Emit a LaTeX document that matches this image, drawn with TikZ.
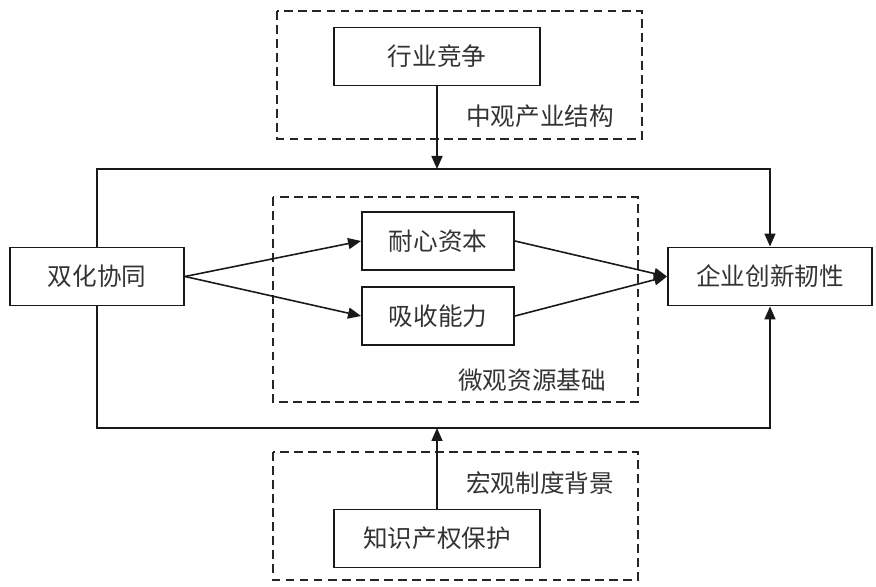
\documentclass[tikz,border=0pt]{standalone}
\usepackage{fontspec}
\setmainfont{Noto Sans CJK SC}
\usetikzlibrary{arrows.meta}

\begin{document}
\begin{tikzpicture}[x=0.02cm,y=-0.02cm,>={Triangle[length=2.6mm,width=2.2mm]},
    font=\fontsize{14}{16}\selectfont, text=black!80]
    \tikzset{box/.style={draw=black!90, line width=1.1pt, minimum height=1.16cm, inner sep=0pt},
        frame/.style={draw=black!85, dashed, dash pattern=on 5pt off 3pt, line width=0.9pt},
        conn/.style={->, draw=black!90, line width=0.9pt}}
    \useasboundingbox (0,0) rectangle (876,587);
    % three dashed frames
    \draw[frame] (277,11) rectangle (642,139);
    \draw[frame] (273,197) rectangle (638,402);
    \draw[frame] (273,452) rectangle (638,580);
    \node (zgcy) at (540,116) {中观产业结构};
    \node (wgzy) at (532,380) {微观资源基础};
    \node (hgzd) at (540,483) {宏观制度背景};
    % boxes
    \node[box, minimum width=4.12cm] (hyjz) at (437,56.5) {行业竞争};
    \node[box, minimum width=3.48cm] (shxt) at (97,276.5) {双化协同};
    \node[box, minimum width=3.04cm] (nxzb) at (438,241) {耐心资本};
    \node[box, minimum width=3.04cm] (xsnl) at (438,316) {吸收能力};
    \node[box, minimum width=4.08cm] (qycx) at (770,276.5) {企业创新韧性};
    \node[box, minimum width=4.12cm] (zscq) at (437,538.5) {知识产权保护};
    \coordinate (topy) at (0,169);
    \coordinate (boty) at (0,428);
    % connectors
    \draw[conn] (shxt.north) -- (shxt.north |- topy) -| (qycx.north);
    \draw[conn] (shxt.south) -- (shxt.south |- boty) -| (qycx.south);
    \draw[conn] (hyjz.south) -- (hyjz.south |- topy);
    \draw[conn] (zscq.north) -- (zscq.north |- boty);
    \draw[conn] (shxt.east) -- (nxzb.west);
    \draw[conn] (shxt.east) -- (xsnl.west);
    \draw[conn] (nxzb.east) -- (qycx.west);
    \draw[conn] (xsnl.east) -- (qycx.west);
\end{tikzpicture}
\end{document}
